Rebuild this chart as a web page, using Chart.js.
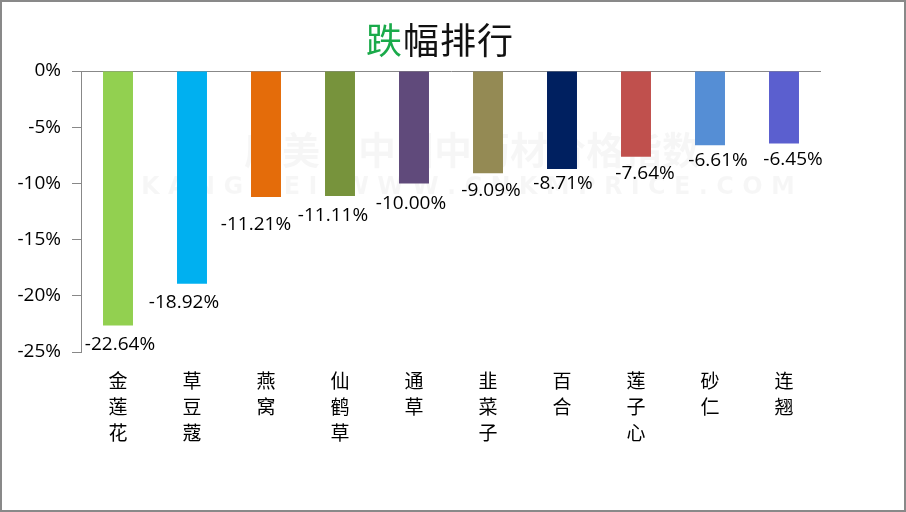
<!DOCTYPE html>
<html>
<head>
<meta charset="utf-8">
<script src="https://cdn.jsdelivr.net/npm/chart.js@4.4.1/dist/chart.umd.min.js"></script>
<style>
    body { margin: 0; background: #fff; }
    #frame {
        position: relative;
        width: 906px;
        height: 512px;
        box-sizing: border-box;
        border: 2px solid #898989;
        background: #fff;
    }
    #title {
        position: absolute;
        left: 364px;
        top: 17px;
        font-family: "Noto Sans CJK SC", sans-serif;
        font-size: 36px;
        line-height: 38px;
        color: #111;
        white-space: nowrap;
        letter-spacing: 1px;
    }
    #title .hl { color: #1aaa4a; }
    #chart { position: absolute; left: 0; top: 0; }
</style>
</head>
<body>
<div id="frame">
    <canvas id="chart" width="902" height="508"></canvas>
    <div id="title"><span class="hl">跌</span>幅排行</div>
</div>
<script>
const herbs = ['金莲花', '草豆蔻', '燕窝', '仙鹤草', '通草', '韭菜子', '百合', '莲子心', '砂仁', '连翘'];
const drops = [-22.64, -18.92, -11.21, -11.11, -10.00, -9.09, -8.71, -7.64, -6.61, -6.45];
const barColors = ['#92d050', '#00b0f0', '#e46c0a', '#77933c', '#604a7b', '#948a54', '#002060', '#c0504d', '#558ed5', '#5b5fcf'];
const yTicks = [0, -5, -10, -15, -20, -25];

// the labels were hand-moved in the original, so nudge each one a bit
const labelDx = [2, -8, -10, -7, -3, 3, 1, 9, 8, 9];
const labelDy = [19, 19, 28, 20, 20, 17, 15, 17, 15, 16];

// faint watermark behind the bars
const watermark = {
    id: 'watermark',
    beforeDatasetsDraw(chart) {
        const ctx = chart.ctx;
        ctx.save();
        ctx.fillStyle = 'rgba(0,0,0,0.035)';
        ctx.textAlign = 'center';
        ctx.textBaseline = 'middle';
        ctx.font = 'bold 38px "Noto Sans CJK SC"';
        ctx.fillText('康美·中国中药材价格指数', 470, 148);
        ctx.font = 'bold 24px "DejaVu Sans"';
        ctx.fillText('K A N G M E I   W W W . C N K M P R I C E . C O M', 466, 186);
        ctx.restore();
    }
};

// value labels under each bar end
const valueLabels = {
    id: 'valueLabels',
    afterDatasetsDraw(chart) {
        const ctx = chart.ctx;
        const meta = chart.getDatasetMeta(0);
        ctx.save();
        ctx.font = '19px "Open Sans"';
        ctx.fillStyle = '#000';
        ctx.textAlign = 'center';
        ctx.textBaseline = 'middle';
        meta.data.forEach((bar, i) => {
            ctx.fillText(drops[i].toFixed(2) + '%', bar.x + labelDx[i], bar.y + labelDy[i]);
        });
        ctx.restore();
    }
};

new Chart(document.getElementById('chart'), {
    type: 'bar',
    data: {
        labels: herbs.map(h => h.split('')),
        datasets: [{
            data: drops,
            backgroundColor: barColors,
            borderWidth: 0,
            barPercentage: 0.405,
            categoryPercentage: 1
        }]
    },
    options: {
        responsive: false,
        animation: false,
        layout: { padding: { left: 0, right: 83, top: 69, bottom: 0 } },
        plugins: {
            legend: { display: false },
            tooltip: { enabled: false }
        },
        scales: {
            x: {
                grid: { display: false, drawTicks: false },
                border: { display: false },
                ticks: {
                    color: '#000',
                    padding: 16,
                    maxRotation: 0,
                    autoSkip: false,
                    font: { family: '"Noto Sans CJK SC"', size: 19, lineHeight: 1.37 }
                },
                afterFit(scale) { scale.height = 158; }
            },
            y: {
                min: -25,
                max: 0,
                afterBuildTicks(scale) {
                    scale.ticks = yTicks.map(v => ({ value: v }));
                },
                grid: {
                    color: ctx => (ctx.tick && ctx.tick.value === 0) ? '#888' : 'rgba(0,0,0,0)',
                    tickColor: '#888',
                    tickLength: 9,
                    lineWidth: 1
                },
                border: { display: true, color: '#888', width: 1 },
                ticks: {
                    color: '#000',
                    padding: 11,
                    font: { family: '"Open Sans"', size: 19 },
                    callback: v => v + '%'
                },
                afterFit(scale) { scale.width = 79; }
            }
        }
    },
    plugins: [watermark, valueLabels]
});
</script>
</body>
</html>
